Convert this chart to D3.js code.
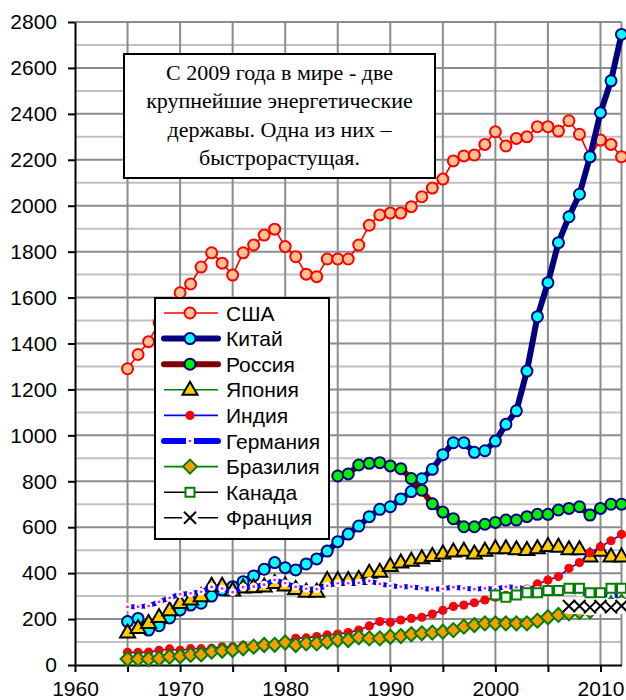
<!DOCTYPE html>
<html>
<head>
<meta charset="utf-8">
<script src="https://cdn.jsdelivr.net/npm/d3@7"></script>
<style>
body { margin: 0; background: #fff; }
svg { display: block; }
</style>
</head>
<body>
<svg id="chart" width="626" height="700"></svg>
<script>
// energy consumption, 1965-2012
var years = [1965, 1966, 1967, 1968, 1969, 1970, 1971, 1972, 1973, 1974, 1975, 1976, 1977, 1978, 1979,
             1980, 1981, 1982, 1983, 1984, 1985, 1986, 1987, 1988, 1989, 1990, 1991, 1992, 1993, 1994,
             1995, 1996, 1997, 1998, 1999, 2000, 2001, 2002, 2003, 2004, 2005, 2006, 2007, 2008, 2009,
             2010, 2011, 2012];

var usa = [1290, 1352, 1408, 1491, 1565, 1621, 1659, 1733, 1795, 1750, 1698, 1795, 1829, 1872, 1898,
           1822, 1778, 1702, 1691, 1768, 1768, 1768, 1829, 1915, 1960, 1968, 1968, 1996, 2039, 2077,
           2116, 2195, 2217, 2221, 2267, 2322, 2260, 2293, 2300, 2344, 2344, 2325, 2370, 2311, 2213,
           2286, 2267, 2213];
var china = [189, 203, 152, 171, 205, 240, 261, 269, 300, 327, 341, 363, 388, 417, 446,
             424, 414, 440, 462, 496, 537, 570, 605, 646, 678, 689, 723, 755, 811, 852,
             916, 968, 968, 926, 933, 975, 1048, 1107, 1280, 1517, 1665, 1839, 1952, 2050, 2213,
             2405, 2544, 2746];
var russia = [null, null, null, null, null, null, null, null, null, null, null, null, null, null, null,
              null, null, null, null, null, 823, 832, 871, 878, 881, 867, 855, 812, 761, 702,
              666, 637, 602, 602, 613, 621, 631, 631, 646, 656, 656, 675, 682, 689, 653,
              682, 700, 700];
var japan = [142, 161, 183, 209, 238, 270, 285, 299, 345, 345, 324, 337, 339, 342, 357,
             346, 331, 319, 319, 370, 370, 370, 374, 402, 406, 431, 446, 454, 465, 475,
             486, 494, 498, 486, 498, 508, 508, 504, 501, 508, 518, 515, 504, 504, 472,
             498, 472, 472];
var india = [55, 55, 56, 64, 70, 64, 71, 71, 73, 79, 80, 86, 84, 87, 94,
             104, 116, 118, 124, 131, 135, 141, 152, 170, 189, 186, 196, 203, 208, 222,
             238, 255, 261, 271, 283, 295, 303, 313, 330, 353, 370, 385, 421, 446, 489,
             515, 541, 569];
var germany = [253, 254, 257, 275, 292, 308, 312, 319, 340, 333, 317, 339, 341, 350, 371,
               356, 340, 332, 330, 345, 356, 356, 358, 366, 353, 345, 341, 341, 334, 330,
               332, 339, 334, 330, 334, 330, 341, 338, 330, 327, 330, 327, 325, 315, 308,
               315, 300, 305];
var brazil = [26, 26, 26, 28, 36, 38, 44, 46, 58, 62, 65, 73, 80, 87, 88,
              98, 87, 94, 94, 101, 109, 109, 121, 116, 116, 123, 126, 134, 138, 141,
              145, 152, 167, 174, 181, 181, 181, 181, 181, 193, 208, 218, 225, 232, 235,
              255, 266, 274];
var canada = [null, null, null, null, null, null, null, null, null, null, null, null, null, null, null,
              null, null, null, null, null, null, null, null, null, null, null, null, null, null, null,
              null, null, null, null, null, 305, 295, 305, 315, 315, 324, 324, 334, 334, 315,
              315, 334, 334];
var france = [null, null, null, null, null, null, null, null, null, null, null, null, null, null, null,
              null, null, null, null, null, null, null, null, null, null, null, null, null, null, null,
              null, null, null, null, null, null, null, null, null, null, null, null, 257, 257, 251,
              257, 251, 257];

var names = ['США', 'Китай', 'Россия', 'Япония', 'Индия', 'Германия', 'Бразилия', 'Канада', 'Франция'];
var xLabels = [1960, 1970, 1980, 1990, 2000, 2010];
var noteLines = ['С 2009 года в мире - две', 'крупнейшие энергетические', 'державы. Одна из них –', 'быстрорастущая.'];

var svg = d3.select('#chart');
var x = d3.scaleLinear().domain([1960, 2012]).range([75, 621.5]);
var y = d3.scaleLinear().domain([0, 2800]).range([665, 22]);

// grid
var grid = svg.append('g');
grid.selectAll('.hminor').data(d3.range(100, 2800, 200)).enter().append('line')
    .attr('x1', x(1960)).attr('x2', x(2012))
    .attr('y1', d => y(d)).attr('y2', d => y(d))
    .attr('stroke', '#c0c0c0').attr('stroke-width', 2);
grid.selectAll('.hmajor').data(d3.range(200, 2801, 200)).enter().append('line')
    .attr('x1', x(1960)).attr('x2', x(2012))
    .attr('y1', d => y(d)).attr('y2', d => y(d))
    .attr('stroke', '#8c8c8c').attr('stroke-width', 2);
grid.selectAll('.vline').data(d3.range(1965, 2011, 5).concat([2012])).enter().append('line')
    .attr('x1', d => x(d)).attr('x2', d => x(d))
    .attr('y1', y(0)).attr('y2', y(2800))
    .attr('stroke', '#8c8c8c').attr('stroke-width', 2);

// axes
var yAxis = d3.axisLeft(y).tickValues(d3.range(0, 2801, 200)).tickSize(7).tickPadding(11).tickSizeOuter(0)
    .tickFormat(d3.format('d'));
var gy = svg.append('g').attr('transform', 'translate(' + x(1960) + ',0)').call(yAxis);
var xAxis = d3.axisBottom(x).tickValues(d3.range(1960, 2011, 5)).tickSize(7).tickPadding(9).tickSizeOuter(0)
    .tickFormat(d => xLabels.indexOf(d) >= 0 ? d : '');
var gx = svg.append('g').attr('transform', 'translate(0,' + y(0) + ')').call(xAxis);
[gx, gy].forEach(function(g) {
    g.select('.domain').attr('stroke', '#000').attr('stroke-width', 2);
    g.selectAll('.tick line').attr('stroke', '#000').attr('stroke-width', 2);
    g.selectAll('text').attr('font-family', '"Liberation Sans", Arial, sans-serif')
        .attr('font-size', 21).attr('fill', '#000');
});

// marker shapes
function markerPath(type) {
    if (type == 'triangle') return 'M0,-8L7.5,5L-7.5,5Z';
    if (type == 'diamond') return 'M0,-7L7,0L0,7L-7,0Z';
    if (type == 'square') return 'M-4.5,-4.5H4.5V4.5H-4.5Z';
    if (type == 'cross') return 'M-6,-6L6,6M-6,6L6,-6';
    return null;
}

var series = [
    {name: names[0], values: usa, line: '#ff0000', lw: 1.6, legLine: '#ff0000', legLw: 1.6, marker: 'circle', r: 5.5, fill: '#fcc293', stroke: '#ff0000', sw: 2},
    {name: names[1], values: china, line: '#000080', lw: 6, legLine: '#000080', legLw: 6, marker: 'circle', r: 5.5, fill: '#00ffff', stroke: '#000080', sw: 2},
    {name: names[2], values: russia, line: '#800000', lw: 6, legLine: '#800000', legLw: 6, marker: 'circle', r: 5.5, fill: '#00ee00', stroke: '#000080', sw: 2},
    {name: names[3], values: japan, line: '#008000', lw: 1.6, legLine: '#008000', legLw: 1.6, marker: 'triangle', fill: '#ffcc00', stroke: '#000', sw: 2},
    {name: names[4], values: india, line: '#0000ff', lw: 1.6, legLine: '#0000ff', legLw: 1.6, marker: 'circle', r: 4.6, fill: '#ff0000', stroke: 'none', sw: 0},
    {name: names[5], values: germany, line: '#0000ff', lw: 5, dash: '3,2.5', legLine: '#0000ff', legLw: 6, marker: 'circle', r: 2.6, fill: '#ff00ff', stroke: '#fff', sw: 2.5},
    {name: names[6], values: brazil, line: '#008000', lw: 1.6, legLine: '#008000', legLw: 1.6, marker: 'diamond', fill: '#ff9900', stroke: '#008000', sw: 2},
    {name: names[7], values: canada, line: '#fff', lw: 6, legLine: '#000', legLw: 1.6, marker: 'square', fill: '#fff', stroke: '#008000', sw: 2},
    {name: names[8], values: france, line: '#fff', lw: 16, legLine: '#000', legLw: 1.6, marker: 'cross', fill: 'none', stroke: '#000', sw: 2}
];

var line = d3.line()
    .defined(d => d[1] != null)
    .x(d => x(d[0]))
    .y(d => y(d[1]));

function drawMarker(g, s) {
    if (s.marker == 'circle') {
        g.append('circle').attr('r', s.r);
    } else {
        g.append('path').attr('d', markerPath(s.marker));
    }
    g.selectAll('circle, path')
        .attr('fill', s.fill).attr('stroke', s.stroke).attr('stroke-width', s.sw)
        .attr('stroke-linejoin', 'miter');
}

series.forEach(function(s) {
    var pts = years.map((yr, i) => [yr, s.values[i]]);
    var g = svg.append('g');
    g.append('path').datum(pts)
        .attr('d', line)
        .attr('fill', 'none')
        .attr('stroke', s.line)
        .attr('stroke-width', s.lw)
        .attr('stroke-linejoin', 'round')
        .attr('stroke-linecap', 'round')
        .attr('stroke-dasharray', s.dash || null);
    g.selectAll('.mk').data(pts.filter(d => d[1] != null)).enter().append('g')
        .attr('transform', d => 'translate(' + x(d[0]) + ',' + y(d[1]) + ')')
        .each(function() { drawMarker(d3.select(this), s); });
});

// note box
var note = svg.append('g');
note.append('rect').attr('x', 124).attr('y', 54).attr('width', 311).attr('height', 124)
    .attr('fill', '#fff').attr('stroke', '#000').attr('stroke-width', 2);
note.selectAll('text').data(noteLines).enter().append('text')
    .attr('x', 279.5).attr('y', (d, i) => 80 + i * 28.3)
    .attr('text-anchor', 'middle')
    .attr('font-family', '"Liberation Serif", "Times New Roman", serif')
    .attr('font-size', 22)
    .text(d => d);

// legend
var legend = svg.append('g');
legend.append('rect').attr('x', 155).attr('y', 298).attr('width', 174).attr('height', 241)
    .attr('fill', '#fff').attr('stroke', '#000').attr('stroke-width', 2);
series.forEach(function(s, i) {
    var cy = 313 + i * 25.6;
    var row = legend.append('g');
    row.append('line').attr('x1', 164).attr('x2', 218).attr('y1', cy).attr('y2', cy)
        .attr('stroke', s.legLine)
        .attr('stroke-width', s.legLw)
        .attr('stroke-linecap', s.legLw > 4 ? 'round' : 'butt');
    if (s.dash) {
        row.append('line').attr('x1', 186).attr('x2', 194).attr('y1', cy).attr('y2', cy)
            .attr('stroke', '#fff').attr('stroke-width', 7);
    }
    var m = row.append('g').attr('transform', 'translate(190,' + cy + ')');
    if (s.marker == 'cross') {
        m.append('line').attr('x1', -8).attr('x2', 8).attr('stroke', '#fff').attr('stroke-width', 3);
    }
    drawMarker(m, s);
    row.append('text').attr('x', 226).attr('y', cy + 7.5)
        .attr('font-family', '"Liberation Sans", Arial, sans-serif')
        .attr('font-size', 21)
        .text(s.name);
});
</script>
</body>
</html>
